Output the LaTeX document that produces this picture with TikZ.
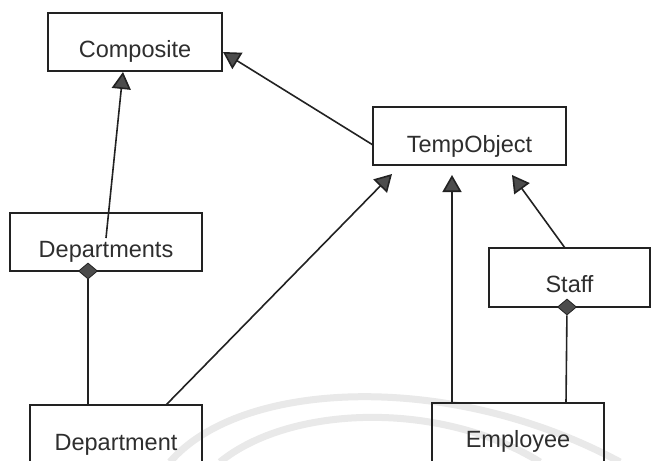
\documentclass[tikz,border=0pt]{standalone}
\usepackage{fontspec}
\setmainfont{Liberation Sans}
\usetikzlibrary{arrows.meta,shapes.geometric}

\definecolor{linec}{HTML}{222222}
\definecolor{headc}{HTML}{4C4C4C}
\definecolor{textc}{HTML}{2E2E2E}
\definecolor{bandc}{HTML}{E9E9E9}

\begin{document}
\begin{tikzpicture}[x=1pt,y=-1pt,
  cls/.style={draw=linec, line width=1.8pt, inner sep=0pt, anchor=base,
    font=\fontsize{23.5}{24}\selectfont, text=textc},
  inh/.style={draw=linec, line width=1.6pt,
    -{Triangle[length=17pt,width=19pt,fill=headc]}},
  link/.style={draw=linec, line width=1.6pt},
  agg/.style={diamond, draw=linec, fill=headc, line width=0.8pt,
    minimum width=19pt, minimum height=16pt, inner sep=0pt},
  band/.style={draw=bandc, line width=7pt}]

\path[use as bounding box, fill=white] (0,0) rectangle (655,460);
\clip (0,0) rectangle (655,460);

% faint background arcs
\draw[band] (170,462) .. controls (240,380) and (450,370) .. (620,462);
\draw[band] (220,462) .. controls (290,405) and (440,400) .. (540,462);

% classes
\node[cls, minimum width=174pt, text height=45pt, text depth=13pt] (comp) at (135,58) {Composite};
\node[cls, minimum width=193pt, text height=45pt, text depth=13pt] (tmp) at (469.5,152) {TempObject};
\node[cls, minimum width=192pt, text height=44pt, text depth=14pt] (dpts) at (106,257) {Departments};
\node[cls, minimum width=161pt, text height=44pt, text depth=15pt] (staff) at (569.5,292) {Staff};
\node[cls, minimum width=172pt, text height=45pt, text depth=30pt] (dept) at (116,450) {Department};
\node[cls, minimum width=172pt, text height=44pt, text depth=30pt] (emp) at (518,447) {Employee};

% connector end points
\coordinate (compB) at (123,72);
\coordinate (compR) at (223,52);
\coordinate (tmpL) at (373,145);
\coordinate (tmpA) at (392,174);
\coordinate (tmpB) at (452,175);
\coordinate (tmpC) at (512,175);
\coordinate (dptsIn) at (106,238);
\coordinate (deptT) at (166,405);
\coordinate (empT) at (452,403);
\coordinate (staffT) at (565,248);
\coordinate (deptA) at (88,405);
\coordinate (empA) at (566,403);

% aggregation diamonds
\node[agg] (dptsD) at (88,271) {};
\node[agg] (staffD) at (567,307) {};

% generalisations
\draw[inh] (dptsIn) -- (compB);
\draw[inh] (tmpL) -- (compR);
\draw[inh] (deptT) -- (tmpA);
\draw[inh] (empT) -- (tmpB);
\draw[inh] (staffT) -- (tmpC);

% aggregations
\draw[link] (dptsD) -- (deptA);
\draw[link] (staffD) -- (empA);
\end{tikzpicture}
\end{document}
